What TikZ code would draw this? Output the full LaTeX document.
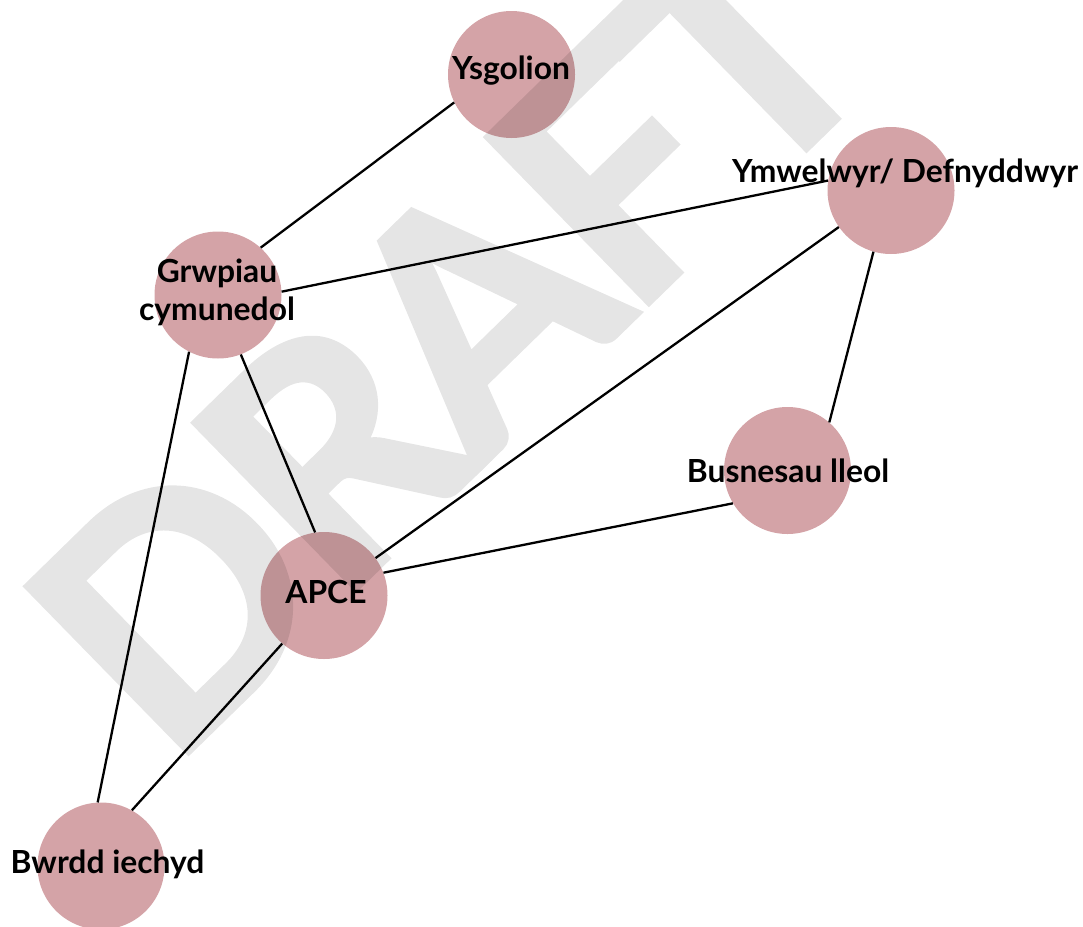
\documentclass[tikz,border=0pt]{standalone}
\usepackage{fontspec}
\setmainfont{Lato}
\newfontfamily\wmfont[FakeBold=2,LetterSpace=-3]{Lato Bold}
\definecolor{nodepink}{RGB}{212,163,167}
\begin{document}
\begin{tikzpicture}[x=1pt,y=-1pt,
  hub/.style={circle,fill=nodepink,minimum size=127pt,inner sep=0pt,draw=none},
  lbl/.style={font=\bfseries\fontsize{31.8}{38}\selectfont,text=black,inner sep=0pt,anchor=base,align=center},
  link/.style={line width=2.3pt,draw=black},
  wm/.style={font=\wmfont\fontsize{320}{320}\selectfont,text=black,inner sep=0pt,anchor=base west,rotate=44.3}]
\useasboundingbox (0,0) rectangle (1083,926);
\clip (0,0) rectangle (1083,926);
% circles
\node[hub] (ys) at (511.5,74.5) {};
\node[hub] (ym) at (891,190.5) {};
\node[hub] (gr) at (218,295) {};
\node[hub] (bu) at (787.5,470.5) {};
\node[hub] (ap) at (324,595.5) {};
\node[hub] (bw) at (101,866) {};
% connectors
\draw[link] (ys.206.8) -- (gr.48.8);
\draw[link] (gr.3.6) -- (ym.171.4);
\draw[link] (ym.215.3) -- (ap.36.5);
\draw[link] (ym.254.8) -- (bu.49.4);
\draw[link] (ap.21.1) -- (bu.211.6);
\draw[link] (gr.291.8) -- (ap.98.1);
\draw[link] (gr.243.4) -- (bw.93.6);
\draw[link] (ap.229.8) -- (bw.61);
% labels
\node[lbl] (ysl) at (511,79) {Ysgolion};
\node[lbl] (yml) at (905,182) {Ymwelwyr/ Defnyddwyr};
\node[lbl] (grl) at (217,320) {Grwpiau\\cymunedol};
\node[lbl] (apl) at (326,603.3) {APCE};
\node[lbl] (bul) at (788,482.3) {Busnesau lleol};
\node[lbl] (bwl) at (107.5,873.3) {Bwrdd iechyd};
% watermark
\begin{scope}[transparency group,opacity=0.1]
\node[wm] (draft) at (170,770) {DRAFT};
\end{scope}
\end{tikzpicture}
\end{document}
